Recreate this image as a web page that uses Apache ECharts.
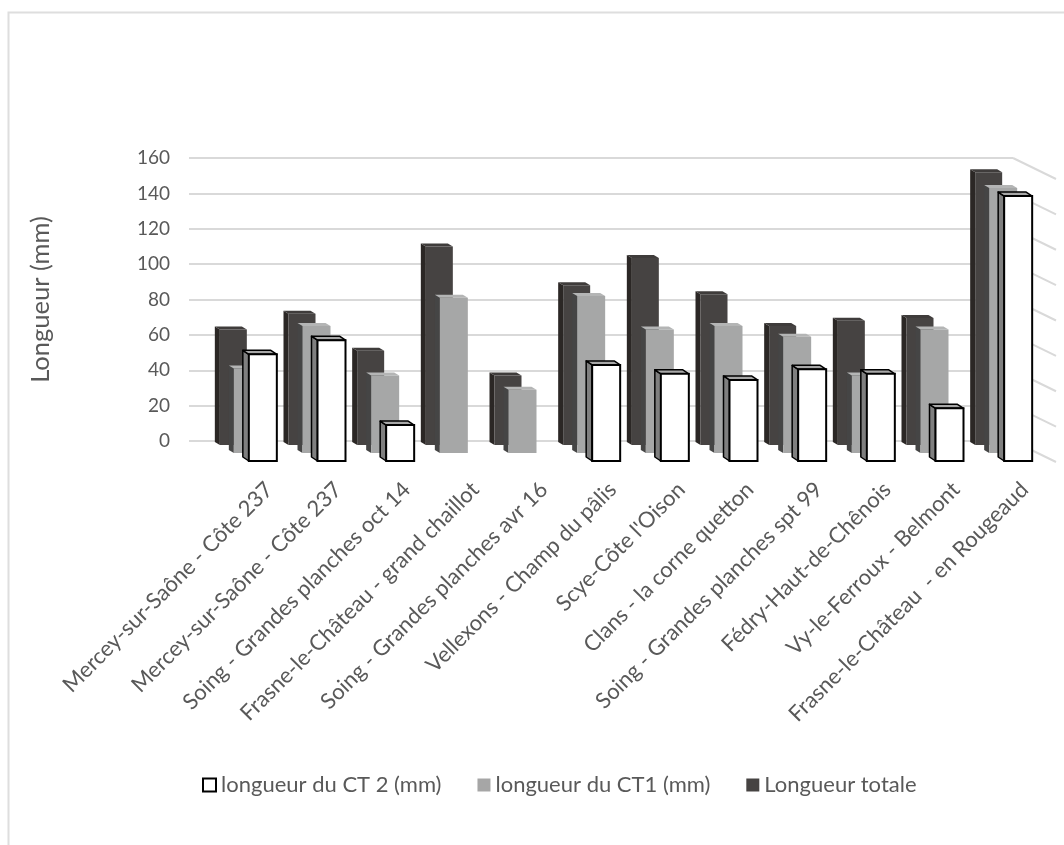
<!DOCTYPE html>
<html><head><meta charset="utf-8">
<style>html,body{margin:0;padding:0;background:#fff}#c{width:1064px;height:845px}</style>
<script src="https://cdn.jsdelivr.net/npm/echarts@6/dist/echarts.min.js"></script>
</head><body><div id="c"></div>
<script>
const categories = ["Mercey-sur-Saône - Côte 237","Mercey-sur-Saône - Côte 237","Soing - Grandes planches oct 14","Frasne-le-Château - grand chaillot","Soing - Grandes planches avr 16","Vellexons - Champ du pâlis","Scye-Côte l'Oison","Clans - la corne quetton","Soing - Grandes planches spt 99","Fédry-Haut-de-Chênois","Vy-le-Ferroux - Belmont","Frasne-le-Château  - en Rougeaud"];
const longueurTotale = [63,72,51,110,37,88,103.5,83,65,68,69.5,152];
const longueurCT1 = [41,65,37,81,29,82,63,65,59,37,63,143];
const longueurCT2 = [49,57,9,null,null,43,38,34.5,40.5,38,18.5,138.5];
const yTicks = [0,20,40,60,80,100,120,140,160];

const styles = {
  total: {off:-3.5, base:4,  w:27, front:'#464342', side:'#2b2725', top:'#3f3c3b', dx:5, dy:3, stroke:null},
  ct1:   {off:10.5, base:12, w:28, front:'#a6a7a7', side:'#454545', top:'#b4b5b5', dx:5, dy:3, stroke:null},
  ct2:   {off:25.5, base:20, w:28, front:'#ffffff', side:'#7f7f7f', top:'#a8a8a8', dx:6, dy:4, stroke:'#000000'}
};
function bar(st){
  return function(params, api){
    const v = api.value(1);
    if (v == null || isNaN(v)) return null;
    const c = api.coord([api.value(0), v]);
    const b = api.coord([api.value(0), 0]);
    const x0 = c[0] + st.off, x1 = x0 + st.w, t = c[1], bt = b[1] + st.base;
    const line = st.stroke ? {stroke:st.stroke, lineWidth:1.5, lineJoin:'round'} : {};
    return {type:'group', children:[
      {type:'polygon', shape:{points:[[x0,t],[x0-st.dx,t-st.dy],[x0-st.dx,bt-st.dy],[x0,bt]]}, style:Object.assign({fill:st.side}, line)},
      {type:'polygon', shape:{points:[[x0,t],[x0-st.dx,t-st.dy],[x1-st.dx,t-st.dy],[x1,t]]}, style:Object.assign({fill:st.top}, line)},
      {type:'rect', shape:{x:x0,y:t,width:st.w,height:bt-t}, style: st.stroke ? {fill:st.front, stroke:st.stroke, lineWidth:2} : {fill:st.front}}
    ]};
  };
}
function wall(params, api){
  const y = api.coord([0, api.value(0)])[1];
  const x = params.coordSys.x + params.coordSys.width;
  return {type:'line', shape:{x1:x,y1:y,x2:x+43,y2:y+21}, style:{stroke:'#d9d9d9', lineWidth:2}};
}
const chart = echarts.init(document.getElementById('c'));
chart.setOption({
  animation:false, backgroundColor:'#fff',
  textStyle:{fontFamily:'Lato'},
  graphic:[{type:'polyline', silent:true, z:-10, shape:{points:[[8.5,845],[8.5,12.5],[1064,12.5]]}, style:{stroke:'#dedede', fill:null, lineWidth:2}}],
  grid:[
    {left:189, top:158, width:824, height:283},
    {left:235, top:158, width:824, height:283}
  ],
  xAxis:[
    {gridIndex:0, type:'category', data:categories, show:false},
    {gridIndex:1, type:'category', data:categories, axisLine:{show:false}, axisTick:{show:false},
     axisLabel:{interval:0, rotate:45, margin:45, color:'#595959', fontSize:22, fontFamily:'Lato'}}
  ],
  yAxis:[
    {gridIndex:0, type:'value', min:0, max:160, interval:20,
     name:'Longueur (mm)', nameLocation:'middle', nameRotate:90, nameGap:135,
     nameTextStyle:{color:'#595959', fontSize:25.5, fontFamily:'Lato'},
     axisLine:{show:false}, axisTick:{show:false},
     axisLabel:{color:'#595959', fontSize:19, margin:19, fontFamily:'Lato'},
     splitLine:{lineStyle:{color:'#d9d9d9', width:2}}},
    {gridIndex:1, type:'value', min:0, max:160, show:false}
  ],
  legend:{left:197, top:769, itemWidth:13, itemHeight:13, itemGap:36, icon:'rect',
    textStyle:{color:'#595959', fontSize:22, fontFamily:'Lato'},
    data:['longueur du CT 2 (mm)','longueur du CT1 (mm)','Longueur totale']},
  series:[
    {type:'custom', name:'wall', silent:true, renderItem:wall, data:yTicks.map(t=>[t]), encode:{y:0}, legendHoverLink:false, z:1, clip:false},
    {type:'custom', name:'Longueur totale', renderItem:bar(styles.total), data:longueurTotale.map((v,i)=>[i,v]), encode:{x:0,y:1}, itemStyle:{color:'#464342'}, z:2},
    {type:'custom', name:'longueur du CT1 (mm)', renderItem:bar(styles.ct1), data:longueurCT1.map((v,i)=>[i,v]), encode:{x:0,y:1}, itemStyle:{color:'#a6a6a6'}, z:3},
    {type:'custom', name:'longueur du CT 2 (mm)', renderItem:bar(styles.ct2), data:longueurCT2.map((v,i)=>[i,v]), encode:{x:0,y:1}, itemStyle:{color:'#ffffff', borderColor:'#000', borderWidth:1.5}, z:4}
  ]
});
</script></body></html>
